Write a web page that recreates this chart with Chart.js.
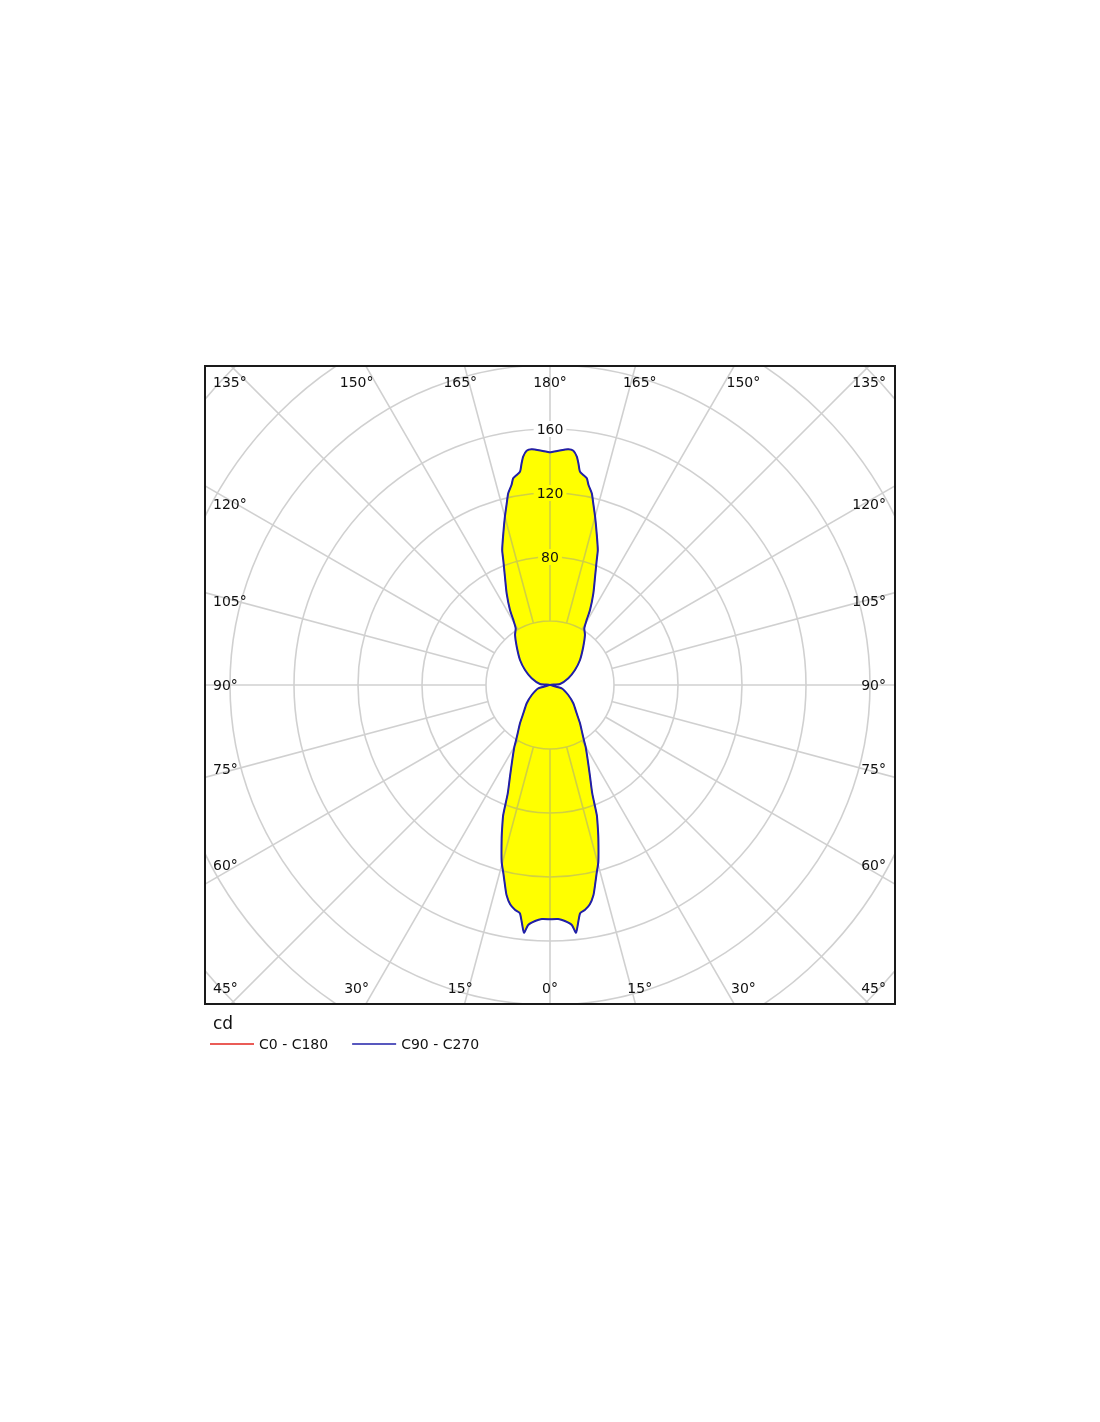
<!DOCTYPE html>
<html>
<head>
<meta charset="utf-8">
<title>Polar intensity diagram</title>
<script src="https://cdn.jsdelivr.net/npm/chart.js@4.4.1/dist/chart.umd.min.js"></script>
<style>
  html, body { margin: 0; padding: 0; background: #fff; }
  #wrap { position: relative; width: 1100px; height: 1422px; }
</style>
</head>
<body>
<div id="wrap"><canvas id="chart"></canvas></div>
<script>
// ── Data ──
// gamma angle in degrees: 0 = straight down, 90 = horizontal, 180 = straight up
const gammaAngles = [0, 2, 3.6, 5.2, 6.0, 7.5, 8.8, 10.3, 11.7, 12.7,
  13.9, 15.3, 17.5, 18.8, 19.8, 21.3, 23.6, 26.7, 30, 31.2,
  33.8, 38.1, 43.3, 51.9, 61.3, 74.2, 90,
  96, 110.1, 121, 129.8, 139, 145, 148.8, 150.6, 151.9, 154.7,
  157.4, 159.5, 160.5, 162.9, 165, 166.6, 167.7, 169.1, 169.9, 171,
  172, 172.7, 173.3, 174.3, 175.6, 178, 180];

// luminous intensity (cd), both halves of each C-plane are symmetric
const intensityC0C180 = [146.4, 146.4, 147.8, 150.6, 155.7, 143.9, 142.3, 139.3, 134.0, 128.1,
  121.3, 114.5, 100.5, 92.4, 86.3, 72.7, 62.5, 52.5, 44.5, 41.4,
  36.3, 30.4, 24.3, 18.5, 13.0, 7.6, 0,
  6.3, 12.2, 18.2, 24.4, 31.7, 38.1, 41.4, 46.7, 53.1, 63.4,
  73.3, 83.4, 89.5, 99.2, 108.9, 116.7, 122.6, 127.3, 131.2, 132.9,
  134.6, 139.7, 143.7, 147.2, 147.8, 146.5, 145.4];

const intensityC90C270 = [146.4, 146.4, 147.8, 150.6, 155.7, 143.9, 142.3, 139.3, 134.0, 128.1,
  121.3, 114.5, 100.5, 92.4, 86.3, 72.7, 62.5, 52.5, 44.5, 41.4,
  36.3, 30.4, 24.3, 18.5, 13.0, 7.6, 0,
  6.3, 12.2, 18.2, 24.4, 31.7, 38.1, 41.4, 46.7, 53.1, 63.4,
  73.3, 83.4, 89.5, 99.2, 108.9, 116.7, 122.6, 127.3, 131.2, 132.9,
  134.6, 139.7, 143.7, 147.2, 147.8, 146.5, 145.4];

const seriesLabels = ['C0 - C180', 'C90 - C270'];
const ringValues = [40, 80, 120, 160, 200, 240, 280, 320];
const ringLabelValues = [80, 120, 160];
const angleTicks = [0, 15, 30, 45, 60, 75, 90, 105, 120, 135, 150, 165, 180];
const unitLabel = 'cd';

// ── Helpers ──
const rad = d => d * Math.PI / 180;

// one closed outline: right half (gamma 0 → 180) then left half back (180 → 0)
function planePoints(intensity) {
  const right = gammaAngles.map((g, i) => ({ x: intensity[i] * Math.sin(rad(g)), y: -intensity[i] * Math.cos(rad(g)) }));
  const left = gammaAngles.map((g, i) => ({ x: -intensity[i] * Math.sin(rad(g)), y: -intensity[i] * Math.cos(rad(g)) })).reverse();
  return right.concat(left);
}

const FONT = '"DejaVu Sans", Verdana, sans-serif';
const GRID = 'rgba(150,150,150,0.45)';
const YELLOW = '#ffff00';

// ── Polar grid, fill and labels ──
const polarPlugin = {
  id: 'polarGrid',
  beforeDatasetsDraw(chart) {
    const { ctx, chartArea: a, scales: { x, y } } = chart;
    const cx = x.getPixelForValue(0), cy = y.getPixelForValue(0);
    const k = x.getPixelForValue(1) - cx;

    ctx.save();
    ctx.beginPath();
    ctx.rect(a.left, a.top, a.right - a.left, a.bottom - a.top);
    ctx.clip();

    // yellow body following the (smoothed) C90 - C270 outline
    const pts = chart.getDatasetMeta(1).data;
    const shape = new Path2D();
    pts.forEach((p, i) => {
      if (!i) { shape.moveTo(p.x, p.y); return; }
      const prev = pts[i - 1];
      if (prev.cp2x !== undefined && p.cp1x !== undefined) {
        shape.bezierCurveTo(prev.cp2x, prev.cp2y, p.cp1x, p.cp1y, p.x, p.y);
      } else {
        shape.lineTo(p.x, p.y);
      }
    });
    shape.closePath();
    ctx.fillStyle = YELLOW;
    ctx.fill(shape);

    // rings + spokes as one stroke
    const grid = new Path2D();
    ringValues.forEach(v => {
      grid.moveTo(cx + v * k, cy);
      grid.arc(cx, cy, v * k, 0, Math.PI * 2);
    });
    const r0 = ringValues[0] * k, r1 = 800;
    for (let t = 0; t < 360; t += 15) {
      const sx = Math.sin(rad(t)), sy = Math.cos(rad(t));
      grid.moveTo(cx + r0 * sx, cy + r0 * sy);
      grid.lineTo(cx + r1 * sx, cy + r1 * sy);
    }
    ctx.strokeStyle = GRID;
    ctx.lineWidth = 1.6;
    ctx.stroke(grid);

    // ring value labels along the 180° spoke
    ctx.font = '14px ' + FONT;
    ctx.textAlign = 'center';
    ctx.textBaseline = 'middle';
    ringLabelValues.forEach(v => {
      const lx = cx, ly = cy - v * k;
      const w = ctx.measureText(String(v)).width + 6;
      ctx.fillStyle = ctx.isPointInPath(shape, lx, ly) ? YELLOW : '#fff';
      ctx.fillRect(lx - w / 2, ly - 8, w, 16);
      ctx.fillStyle = '#111';
      ctx.fillText(String(v), lx, ly + 1);
    });
    ctx.restore();
  },
  afterDraw(chart) {
    const { ctx, chartArea: a, scales: { x, y } } = chart;
    const cx = x.getPixelForValue(0), cy = y.getPixelForValue(0);
    const hw = (a.right - a.left) / 2, hh = (a.bottom - a.top) / 2;

    ctx.save();
    // frame
    ctx.strokeStyle = '#1a1a1a';
    ctx.lineWidth = 2;
    ctx.strokeRect(a.left, a.top, a.right - a.left, a.bottom - a.top);

    // angle labels on the frame edges, kept inside the frame
    ctx.font = '14px ' + FONT;
    ctx.fillStyle = '#111';
    ctx.textAlign = 'center';
    ctx.textBaseline = 'middle';
    const minX = a.left + 8, maxX = a.right - 9;
    angleTicks.forEach(t => {
      [1, -1].forEach(side => {
        if (side < 0 && (t === 0 || t === 180)) return;
        const txt = t + '°';
        const half = ctx.measureText(txt).width / 2;
        let lx, ly;
        if (t <= 45 || t >= 135) {
          const dn = t <= 45 ? 1 : -1;
          const tt = t <= 45 ? t : 180 - t;
          lx = cx + side * (hh + 16) * Math.tan(rad(tt));
          ly = cy + dn * (hh - 16);
        } else {
          lx = cx + side * hw;
          ly = cy + (hw - 32) / Math.tan(rad(t));
        }
        lx = Math.min(Math.max(lx, minX + half), maxX - half);
        ctx.fillText(txt, lx, ly + 1);
      });
    });

    // legend
    ctx.textAlign = 'left';
    ctx.font = '17px ' + FONT;
    ctx.fillText(unitLabel, a.left + 8, a.bottom + 21);
    ctx.font = '14px ' + FONT;
    let lx = a.left + 5;
    const ly = a.bottom + 40;
    chart.data.datasets.forEach(ds => {
      ctx.strokeStyle = ds.borderColor;
      ctx.lineWidth = 1.5;
      ctx.beginPath();
      ctx.moveTo(lx, ly);
      ctx.lineTo(lx + 44, ly);
      ctx.stroke();
      ctx.fillStyle = '#111';
      ctx.fillText(ds.label, lx + 49, ly + 1);
      lx += 49 + ctx.measureText(ds.label).width + 24;
    });
    ctx.restore();
  }
};

new Chart(document.getElementById('chart'), {
  type: 'scatter',
  data: {
    datasets: [
      {
        label: seriesLabels[0],
        data: planePoints(intensityC0C180),
        showLine: true,
        borderColor: '#e3261f',
        borderWidth: 1,
        pointRadius: 0,
        tension: 0.2,
        fill: false,
        order: 2
      },
      {
        label: seriesLabels[1],
        data: planePoints(intensityC90C270),
        showLine: true,
        borderColor: '#2020a8',
        borderWidth: 2,
        pointRadius: 0,
        tension: 0.2,
        fill: false,
        order: 1
      }
    ]
  },
  options: {
    responsive: true,
    maintainAspectRatio: false,
    animation: false,
    devicePixelRatio: 1,
    layout: { padding: { left: 205, right: 205, top: 366, bottom: 418 } },
    scales: {
      x: { type: 'linear', min: -215.625, max: 215.625, display: false },
      y: { type: 'linear', min: -199.375, max: 199.375, display: false }
    },
    plugins: {
      legend: { display: false },
      tooltip: { enabled: false }
    }
  },
  plugins: [polarPlugin]
});
</script>
</body>
</html>
